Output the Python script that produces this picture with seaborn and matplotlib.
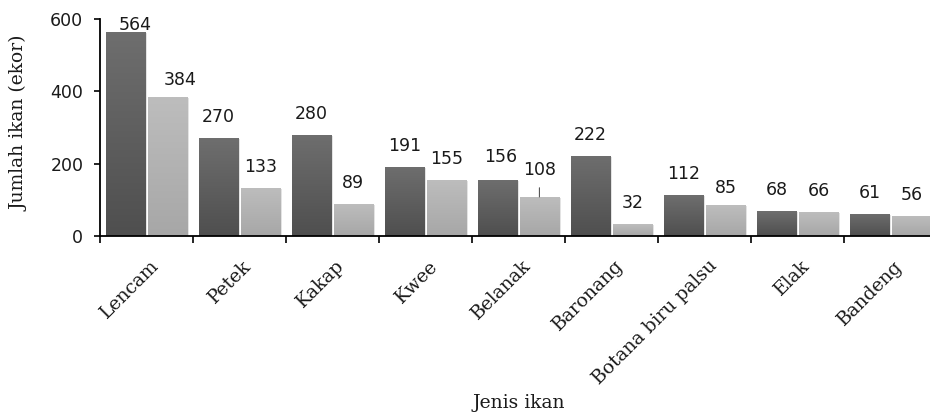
import numpy as np
import pandas as pd
import matplotlib
matplotlib.use("Agg")
import matplotlib.pyplot as plt
import matplotlib.transforms as mtransforms
from matplotlib.colors import LinearSegmentedColormap
import seaborn as sns

# Data: fish catch per species for two sampling periods
jenis_ikan = ["Lencam", "Petek", "Kakap", "Kwee", "Belanak", "Baronang",
              "Botana biru palsu", "Elak", "Bandeng"]
periode_1 = [564, 270, 280, 191, 156, 222, 112, 68, 61]
periode_2 = [384, 133, 89, 155, 108, 32, 85, 66, 56]
y_ticks = [0, 200, 400, 600]

df = pd.DataFrame({
    "Jenis ikan": jenis_ikan * 2,
    "Jumlah": periode_1 + periode_2,
    "Periode": ["I"] * len(jenis_ikan) + ["II"] * len(jenis_ikan),
})

# label nudges in pixels (dx, dy above bar top), keyed by (series, index)
label_nudge = {(0, 0): (10, 7), (1, 0): (13, 17), (0, 4): (3, 23),
               (1, 4): (0, 27), (1, 6): (0, 17)}
leader_lines = {(1, 4)}

sns.set_theme(style="ticks")
plt.rcParams["font.family"] = ["DejaVu Sans"]
serif = ["DejaVu Serif"]

fig = plt.figure(figsize=(9.3, 4.12), dpi=100)
W, H = 930, 412
ax = fig.add_axes([100 / W, 1 - 236 / H, 837 / W, 217 / H])

base_colors = ["#5c5c5c", "#b1b1b1"]
sns.barplot(data=df, x="Jenis ikan", y="Jumlah", hue="Periode",
            palette=base_colors, width=0.9, gap=0.05, legend=False,
            saturation=1, edgecolor="none", linewidth=0, ax=ax)

ax.set_xlim(-0.5, len(jenis_ikan) - 0.5)
ax.set_ylim(0, 600)

# vertical shading on each bar (lighter on top, darker at base)
grad_maps = [
    LinearSegmentedColormap.from_list("dk", ["#4f4f4f", "#6e6e6e"]),
    LinearSegmentedColormap.from_list("lt", ["#a7a7a7", "#bdbdbd"]),
]
grad = np.linspace(0, 1, 64).reshape(-1, 1)
shadow_off = mtransforms.ScaledTranslation(2 / 100, -1 / 100, fig.dpi_scale_trans)
for s, cont in enumerate(ax.containers):
    for bar in cont:
        x, y0 = bar.get_x(), bar.get_y()
        w, h = bar.get_width(), bar.get_height()
        im = ax.imshow(grad, cmap=grad_maps[s], origin="lower", aspect="auto",
                       extent=[x, x + w, y0, y0 + h], zorder=2,
                       interpolation="bilinear")
        im.set_clip_path(bar)
        sh = plt.Rectangle((x, y0), w, h, transform=ax.transData + shadow_off,
                           facecolor="#c8c8c8", alpha=0.5, edgecolor="none",
                           zorder=0.5)
        ax.add_patch(sh)

ax.set_xlim(-0.5, len(jenis_ikan) - 0.5)
ax.set_ylim(0, 600)

# value labels
for s, cont in enumerate(ax.containers):
    vals = periode_1 if s == 0 else periode_2
    for i, bar in enumerate(cont):
        dx, dy = label_nudge.get((s, i), (0, 21))
        cx = bar.get_x() + bar.get_width() / 2
        props = None
        if (s, i) in leader_lines:
            props = dict(arrowstyle="-", color="#555555", lw=0.8,
                         shrinkA=4, shrinkB=0)
        ax.annotate(f"{vals[i]}", xy=(cx, vals[i]), xytext=(dx, dy),
                    textcoords="offset pixels", ha="center", va="center",
                    fontsize=12.5, color="#1a1a1a", arrowprops=props,
                    zorder=5)

# axes styling
sns.despine(ax=ax, top=True, right=True)
for sp in ("left", "bottom"):
    ax.spines[sp].set_color("#000000")
    ax.spines[sp].set_linewidth(1.3)
ax.set_yticks(y_ticks)
ax.set_yticklabels([str(v) for v in y_ticks], fontsize=12.5, color="#1a1a1a")
ax.tick_params(axis="y", length=4, width=1.2, color="#000000", pad=8)

ax.set_xticks(range(len(jenis_ikan)))
ax.set_xticks(np.arange(-0.5, len(jenis_ikan), 1.0), minor=True)
ax.tick_params(axis="x", which="major", length=0, pad=15)
ax.tick_params(axis="x", which="minor", length=5, width=1.2, color="#000000")
ax.set_xticklabels(jenis_ikan, rotation=45, ha="right", va="top",
                   rotation_mode="anchor", family=serif, fontsize=13.5,
                   color="#1a1a1a")
shift = mtransforms.ScaledTranslation(3 / 100, 0, fig.dpi_scale_trans)
for lbl in ax.get_xticklabels():
    lbl.set_transform(lbl.get_transform() + shift)

ax.set_xlabel("Jenis ikan", family=serif, fontsize=13.5, color="#1a1a1a")
ax.xaxis.set_label_coords(0.5, (236 - 394) / 217)
ax.set_ylabel("Jumlah ikan (ekor)", family=serif, fontsize=13.5,
              color="#1a1a1a")
ax.yaxis.set_label_coords((29 - 100) / 837, (236 - 123) / 217)
ax.grid(False)

fig.savefig("out.png", dpi=100, facecolor="white")
